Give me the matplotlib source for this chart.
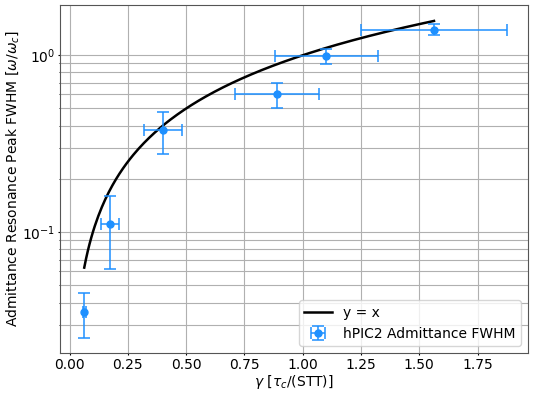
import numpy as np
import matplotlib.pyplot as plt

# datos
gamma = [0.063, 0.173, 0.401, 0.89, 1.10, 1.563]
gamma_lo = [0.056, 0.136, 0.321, 0.711, 0.88, 1.252]
gamma_hi = [0.070, 0.210, 0.483, 1.069, 1.322, 1.876]
fwhm = [0.0352, 0.111, 0.38, 0.60, 0.987, 1.397]
fwhm_lo = [0.0253, 0.0615, 0.278, 0.50, 0.893, 1.30]
fwhm_hi = [0.045, 0.161, 0.479, 0.698, 1.09, 1.50]

g = np.array(gamma)
f = np.array(fwhm)
xerr = [g - np.array(gamma_lo), np.array(gamma_hi) - g]
yerr = [f - np.array(fwhm_lo), np.array(fwhm_hi) - f]

xx = np.linspace(g.min(), g.max(), 200)

plt.rcParams['font.size'] = 10
fig = plt.figure(figsize=(5.33, 3.95), dpi=100)
ax = fig.add_axes([0.113, 0.106, 0.878, 0.881])
ax.plot(xx, xx, '-', color='black', linewidth=1.8, label='y = x')
ax.errorbar(g, f, xerr=xerr, yerr=yerr, fmt='o', color='dodgerblue',
            markersize=5, capsize=4.5, elinewidth=1.1, capthick=1.1,
            label='hPIC2 Admittance FWHM')
ax.set_yscale('log')
ax.set_xticks([0.0, 0.25, 0.5, 0.75, 1.0, 1.25, 1.5, 1.75])
ax.set_xlim(-0.04, 1.967)
ax.set_ylim(0.0207, 1.92)
ax.grid(True, which='both', color='#b0b0b0', linewidth=0.8)
ax.tick_params(which='major', length=1.5, pad=2)
ax.tick_params(which='minor', length=1)
for s in ax.spines.values():
    s.set_color('#555555')
ax.set_xlabel(r'$\gamma$ [$\tau_c$/(STT)]', labelpad=1)
ax.set_ylabel(r'Admittance Resonance Peak FWHM [$\omega/\omega_c$]', labelpad=1)
ax.legend(loc='lower right')
fig.savefig('out.png', dpi=100)
